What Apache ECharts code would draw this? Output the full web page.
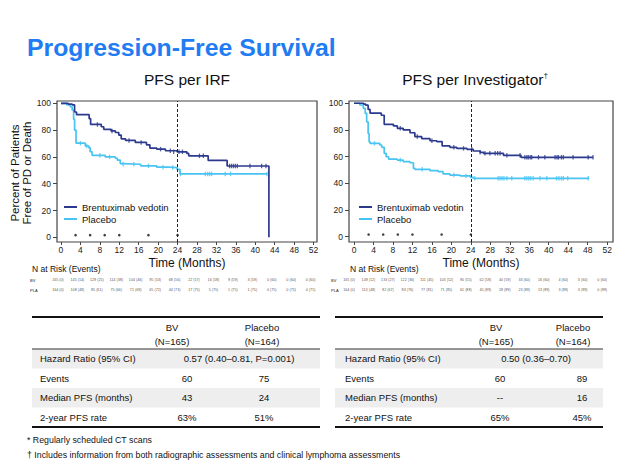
<!DOCTYPE html>
<html><head><meta charset="utf-8">
<script src="https://cdn.jsdelivr.net/npm/echarts@6/dist/echarts.min.js"></script>
<style>html,body{margin:0;padding:0;background:#fff}#c{width:620px;height:468px}</style>
</head><body><div id="c"></div>
<script>
// ---------- data ----------
const months = [0,4,8,12,16,20,24,28,32,36,40,44,48,52];
const yTicks = [0,20,40,60,80,100];
const scanMonths = [3,6,9,12,18,24];
const seriesNames = ['Brentuximab vedotin','Placebo'];

// PFS per IRF (step points: [month, % free])
const irfBV = [[0,100],[1.5,99.4],[2.3,98.8],[2.8,93.5],[3.2,91.5],[5.8,88.5],[6.1,84.2],[8.3,82.5],[8.8,80.6],[10.3,79.4],[11.2,78.2],[11.9,76.3],[12.4,73.5],[13.3,72.3],[15.3,70.8],[17.6,69.0],[18.3,66.6],[19.7,65.8],[21.5,64.6],[23.9,63.8],[25.9,62.6],[26.3,60.8],[30.3,57.4],[34.2,53.2],[42.8,53.2],[42.8,0]];
const irfPL = [[0,100],[1.2,98.7],[1.9,97.4],[2.3,95],[2.6,88],[2.8,80],[3.1,70.2],[5.0,68.2],[5.7,66.9],[6.0,63.9],[6.4,61.2],[9.1,60.0],[11.2,59.0],[11.6,57.6],[12.2,55.0],[12.7,54.5],[16.4,53.3],[19.7,52.3],[22.1,52.0],[23.9,50.7],[24.5,47.3],[42.5,47.3]];
const irfBVcens = [[7.5,84.2],[10.5,79.4],[14,72.3],[16.5,70.8],[20.5,65.8],[22.5,64.6],[23.2,63.8],[24.3,63.8],[25,63.8],[28.5,60.8],[29.3,60.8],[34.7,53.2],[35.1,53.2],[35.5,53.2],[35.9,53.2],[36.3,53.2],[38.9,53.2],[41.3,53.2],[42.2,53.2]];
const irfPLcens = [[4,70.2],[5.3,68.2],[8,61.2],[10,60],[12.8,54.5],[15,54.5],[18,53.3],[21,52.3],[23,52],[24.6,47.3],[29.7,47.3],[30.2,47.3],[30.6,47.3],[31,47.3],[33.8,47.3],[34.9,47.3],[42.4,47.3]];

// PFS per Investigator
const invBV = [[0,100],[2.0,99.3],[2.4,98.6],[2.9,95.4],[3.3,92.6],[5.6,91.0],[6.2,84.2],[8.1,83.0],[8.9,81.2],[10.1,80.0],[11.5,77.9],[12.5,75.0],[13.9,73.5],[15.6,71.9],[17.0,71.3],[18.1,68.0],[19.7,67.0],[21.1,66.2],[23.2,65.5],[24.5,64.2],[25.9,63.2],[26.6,62.5],[30.7,61.0],[34.3,59.5],[49.1,59.5]];
const invPL = [[0,100],[1.2,98.7],[1.9,96.2],[2.3,92.4],[2.6,86.1],[2.9,77.4],[3.1,71.1],[3.3,70.0],[5.3,68.7],[5.7,67.0],[6.2,62.5],[6.6,59.9],[7.1,58.2],[8.9,57.4],[10.1,56.2],[11.5,55.4],[12.2,51.2],[12.5,50.5],[15.6,49.5],[17.3,48.7],[18.3,47.0],[19.7,46.2],[21.8,45.5],[23.9,44.5],[24.5,43.7],[48.3,43.7]];
const invBVcens = [[9.5,81.2],[13,75],[16,71.9],[20.5,67],[22.5,66.2],[24.2,65.5],[25.9,63.2],[26.9,62.5],[27.9,62.5],[29,62.5],[29.5,62.5],[30,62.5],[31.4,61],[34.1,61],[35.1,59.5],[35.5,59.5],[35.8,59.5],[36.2,59.5],[36.5,59.5],[37.9,59.5],[39.2,59.5],[41.3,59.5],[41.7,59.5],[42,59.5],[42.6,59.5],[43,59.5],[45,59.5],[48.1,59.5],[49.1,59.5]];
const invPLcens = [[4.2,70],[9.5,57.4],[14,50.5],[20.5,46.2],[23,45.5],[24.8,43.7],[29.6,43.7],[30,43.7],[30.4,43.7],[30.8,43.7],[31.4,43.7],[32.4,43.7],[35.1,43.7],[35.5,43.7],[35.9,43.7],[36.3,43.7],[36.8,43.7],[38.2,43.7],[39.6,43.7],[41.6,43.7],[42.1,43.7],[42.6,43.7],[43,43.7],[43.9,43.7],[48.1,43.7]];

// Numbers at risk (events)
const riskRows = ['BV','PLA'];
const irfRiskBV = ['165 (0)','145 (14)','129 (25)','114 (38)','104 (46)','95 (53)','68 (56)','22 (57)','16 (58)','9 (59)','3 (59)','0 (60)','0 (60)','0 (60)'];
const irfRiskPL = ['164 (0)','108 (48)','85 (61)','75 (66)','71 (69)','65 (72)','44 (73)','17 (75)','5 (75)','1 (75)','1 (75)','0 (75)','0 (75)','0 (75)'];
const invRiskBV = ['165 (0)','149 (12)','133 (27)','122 (36)','111 (45)','103 (52)','90 (55)','62 (58)','40 (59)','33 (60)','16 (60)','4 (60)','3 (60)','0 (60)'];
const invRiskPL = ['164 (0)','113 (48)','92 (67)','83 (76)','77 (81)','71 (85)','61 (88)','45 (89)','28 (89)','23 (89)','13 (89)','3 (89)','3 (89)','0 (89)'];

// Tables
const tableRowLabels = ['Hazard Ratio (95% CI)','Events','Median PFS (months)','2-year PFS rate'];
const tableHeaders = [['BV','(N=165)'],['Placebo','(N=164)']];
const irfHR = '0.57 (0.40\u20130.81, P=0.001)';
const irfEvents = ['60','75'], irfMedian = ['43','24'], irfRate = ['63%','51%'];
const invHR = '0.50 (0.36\u20130.70)';
const invEvents = ['60','89'], invMedian = ['--','16'], invRate = ['65%','45%'];

// ---------- chart ----------
const FONT = '"Liberation Sans", Arial, Helvetica, sans-serif';
const BV_C = '#2c3a8e', PL_C = '#48c4f2', FRAME = '#444';
const chart = echarts.init(document.getElementById('c'), null, {renderer:'svg', width:620, height:468});

const grids = [
  {left:57, top:101, width:260, height:141, show:true, borderColor:FRAME, borderWidth:1.2, backgroundColor:'transparent'},
  {left:349, top:101, width:264, height:141, show:true, borderColor:FRAME, borderWidth:1.2, backgroundColor:'transparent'},
  {left:57, top:275, width:260, height:20},
  {left:349, top:275, width:264, height:20}
];
const xr = [[-0.82,52.7],[-1.03,53.2]];
const yr = [[-3.5,101.7],[-4.0,101.7]];

function kmX(i){
  return {type:'value', gridIndex:i, min:xr[i][0], max:xr[i][1],
    axisLine:{show:false, onZero:false}, splitLine:{show:false},
    axisTick:{show:true, length:3, customValues:months, lineStyle:{color:FRAME}},
    axisLabel:{customValues:months, fontSize:8.5, color:'#222', margin:3, fontFamily:FONT},
    name:'Time (Months)', nameLocation:'middle', nameGap:15,
    nameTextStyle:{fontSize:12, color:'#111', fontFamily:FONT}};
}
function kmY(i){
  return {type:'value', gridIndex:i, min:yr[i][0], max:yr[i][1],
    axisLine:{show:false, onZero:false}, splitLine:{show:false},
    axisTick:{show:true, length:4, customValues:yTicks, lineStyle:{color:FRAME}},
    axisLabel:{customValues:yTicks, fontSize:8.5, color:'#222', margin:6, fontFamily:FONT}};
}
function riskX(i, k){
  return {type:'value', gridIndex:i, min:xr[k][0], max:xr[k][1], show:false};
}
function riskY(i, margin){
  return {type:'category', gridIndex:i, data:riskRows, inverse:true,
    axisLine:{show:false}, axisTick:{show:false}, splitLine:{show:false},
    axisLabel:{fontSize:4, color:'#222', align:'left', margin:margin, fontFamily:FONT}};
}

function kmSeries(name, data, color, xi, mark){
  const s = {name:name, type:'line', step:'end', data:data, xAxisIndex:xi, yAxisIndex:xi,
    showSymbol:false, symbol:'none', lineStyle:{width:1.7, color:color}, itemStyle:{color:color},
    z:3, silent:true};
  if (mark) s.markLine = {silent:true, symbol:['none','none'], label:{show:false},
    lineStyle:{type:[3,2], color:'#222', width:1}, data:[{xAxis:24}]};
  return s;
}
function censSeries(name, data, color, xi){
  return {name:name, type:'scatter', data:data, xAxisIndex:xi, yAxisIndex:xi,
    symbol:'rect', symbolSize:[1.3,4.5], itemStyle:{color:color}, z:4, silent:true};
}
function scanSeries(xi){
  return {type:'scatter', data:scanMonths.map(m=>[m,1.6]), xAxisIndex:xi, yAxisIndex:xi,
    symbol:'circle', symbolSize:2.6, itemStyle:{color:'#111'}, silent:true};
}
function riskSeries(xi, bv, pl, off){
  const data = [];
  months.forEach((m,i)=>{
    data.push({value:[m,0], name:bv[i]});
    data.push({value:[m,1], name:pl[i]});
  });
  return {type:'scatter', data:data, xAxisIndex:xi, yAxisIndex:xi, symbolSize:1,
    itemStyle:{color:'transparent'}, silent:true,
    label:{show:true, position:'top', distance:-2, formatter:'{b}', fontSize:3.7, color:'#222', offset:[off,0], fontFamily:FONT}};
}

// graphic helpers
function txt(x, y, s, size, align, opts){
  return Object.assign({type:'text', x:x, y:y, silent:true,
    style:Object.assign({text:s, fontSize:size, fontFamily:FONT, fill:'#111', align:align||'left', verticalAlign:'middle'}, (opts&&opts.style)||{})},
    opts&&opts.el||{});
}
function hline(x1, x2, y, w, c){
  return {type:'line', silent:true, shape:{x1:x1, y1:y, x2:x2, y2:y}, style:{stroke:c||'#111', lineWidth:w}};
}
function table(cfg, hr, ev, med, rate){
  const g = [];
  const rowH = 19.5, headBot = 349, top = 317;
  tableRowLabels.forEach((lab,i)=>{
    const y = headBot + i*rowH;
    if (i%2===0) g.push({type:'rect', silent:true, shape:{x:cfg.x0, y:y, width:cfg.x1-cfg.x0, height:rowH}, style:{fill:'#eeeeee'}});
  });
  g.push(hline(cfg.x0, cfg.x1, top, 1.8));
  g.push(hline(cfg.x0, cfg.x1, headBot, 1, '#333'));
  g.push(hline(cfg.x0, cfg.x1, headBot + 4*rowH, 1.8));
  tableHeaders.forEach((h,j)=>{
    g.push(txt(cfg.hc[j], 327, h[0], 9.5, 'center'));
    g.push(txt(cfg.hc[j], 341, h[1], 9.5, 'center'));
  });
  tableRowLabels.forEach((lab,i)=>{
    const y = headBot + i*rowH + rowH/2;
    g.push(txt(cfg.lx, y, lab, 9.5, 'left'));
  });
  g.push(txt(cfg.hrc, headBot + rowH/2, hr, 9.5, 'center'));
  [ev, med, rate].forEach((vals,k)=>{
    const y = headBot + (k+1)*rowH + rowH/2;
    vals.forEach((v,j)=>g.push(txt(cfg.dc[j], y, v, 9.5, 'center')));
  });
  return g;
}

const graphics = [
  txt(27, 47, 'Progression-Free Survival', 24.8, 'left', {style:{fontWeight:'bold', fill:'#1f7cf2'}}),
  txt(187, 79, 'PFS per IRF', 15.5, 'center'),
  {type:'text', x:475, y:79, silent:true, style:{text:'PFS per Investigator{s|\u2020}', fontSize:15.5, fontFamily:FONT, fill:'#111', align:'center', verticalAlign:'middle',
     rich:{s:{fontSize:8, verticalAlign:'top', padding:[0,0,8,0], fontFamily:FONT, fill:'#111'}}}},
  txt(21, 173, 'Percent of Patients\nFree of PD or Death', 11.5, 'center', {el:{rotation:Math.PI/2}, style:{lineHeight:12.5}}),
  txt(32, 269, 'N at Risk (Events)', 8.5, 'left'),
  txt(350, 269, 'N at Risk (Events)', 8.5, 'left'),
  txt(27, 440, '* Regularly scheduled CT scans', 8.8, 'left'),
  txt(27, 455, '\u2020 Includes information from both radiographic assessments and clinical lymphoma assessments', 8.8, 'left')
].concat(
  table({x0:32, x1:320, hc:[172,262], dc:[187,264], hrc:239, lx:40}, irfHR, irfEvents, irfMedian, irfRate),
  table({x0:335, x1:603, hc:[496,573], dc:[500,582], hrc:536, lx:345}, invHR, invEvents, invMedian, invRate)
);

function legendAt(left){
  return {left:left, top:202, orient:'vertical', selectedMode:false, data:seriesNames, icon:'rect',
    itemWidth:13, itemHeight:2, itemGap:2, padding:0,
    textStyle:{fontSize:9.5, color:'#111', fontFamily:FONT}};
}

chart.setOption({
  animation:false,
  textStyle:{fontFamily:FONT},
  grid:grids,
  xAxis:[kmX(0), kmX(1), riskX(2,0), riskX(3,1)],
  yAxis:[kmY(0), kmY(1), riskY(2,27), riskY(3,18)],
  legend:[legendAt(64), legendAt(359)],
  series:[
    kmSeries(seriesNames[1], irfPL, PL_C, 0, false),
    kmSeries(seriesNames[0], irfBV, BV_C, 0, true),
    censSeries(seriesNames[1], irfPLcens, PL_C, 0),
    censSeries(seriesNames[0], irfBVcens, BV_C, 0),
    scanSeries(0),
    kmSeries(seriesNames[1], invPL, PL_C, 1, false),
    kmSeries(seriesNames[0], invBV, BV_C, 1, true),
    censSeries(seriesNames[1], invPLcens, PL_C, 1),
    censSeries(seriesNames[0], invBVcens, BV_C, 1),
    scanSeries(1),
    riskSeries(2, irfRiskBV, irfRiskPL, -3),
    riskSeries(3, invRiskBV, invRiskPL, -5)
  ],
  graphic:graphics
});
</script>
</body></html>
